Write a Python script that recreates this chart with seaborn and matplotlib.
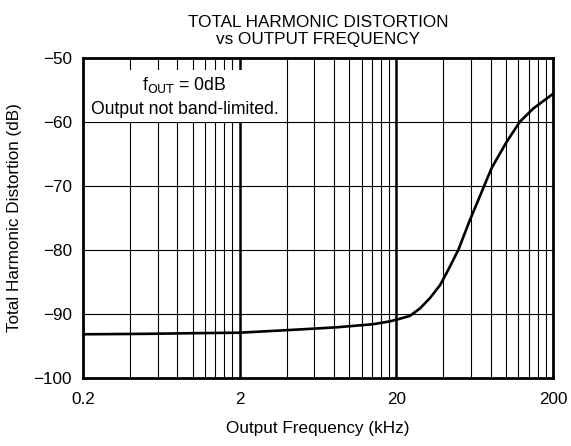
import numpy as np
import pandas as pd
import matplotlib
matplotlib.use("Agg")
import matplotlib.pyplot as plt
import seaborn as sns

# Data
freq_khz = [0.2, 0.5, 1.0, 2.0, 4.19, 8.32, 14.2, 18.2, 20.3, 24.4, 28.4, 32.8, 38.0, 42.9, 49.7, 59.0, 66.7, 81.1, 101.2, 123, 149.6, 200]
thd_db = [-93.17, -93.1, -93.0, -92.92, -92.5, -92.08, -91.6, -91.15, -90.85, -90.3, -89.1, -87.5, -85.5, -83.1, -80.0, -75.3, -72.2, -67.2, -63.1, -59.95, -57.9, -55.6]
x_ticks = [0.2, 2, 20, 200]
x_tick_labels = ["0.2", "2", "20", "200"]
y_ticks = [-100, -90, -80, -70, -60, -50]

sns.set_theme(style="white")
plt.rcParams['font.family'] = ['Liberation Sans', 'DejaVu Sans']
FS = 12.3

fig = plt.figure(figsize=(5.71, 4.46), dpi=100)
ax = fig.add_axes([83/571, 1 - 378/446, (553-83)/571, (378-58)/446])

# Grid: minor verticals at 0.2*k per decade, heavier lines at decades
for dec in [0.2, 2, 20]:
    for k in range(2, 10):
        ax.axvline(dec * k, color="black", lw=0.8, zorder=1)
for xv in [2, 20]:
    ax.axvline(xv, color="black", lw=1.8, zorder=1.5)
for yv in y_ticks[1:-1]:
    ax.axhline(yv, color="black", lw=0.8, zorder=1)

df = pd.DataFrame({"f": freq_khz, "thd": thd_db})
sns.lineplot(data=df, x="f", y="thd", ax=ax, color="black", lw=1.9, zorder=3,
             estimator=None, solid_joinstyle="round", solid_capstyle="round")

ax.set_xscale("log")
ax.set_xlim(0.2, 200)
ax.set_ylim(-100, -50)
ax.set_xticks(x_ticks)
ax.set_xticklabels(x_tick_labels)
ax.xaxis.set_minor_locator(matplotlib.ticker.NullLocator())
ax.set_yticks(y_ticks)
ax.tick_params(axis="both", length=0, labelsize=FS, colors="black")
ax.tick_params(axis="x", pad=10)
ax.tick_params(axis="y", pad=8)
for s in ax.spines.values():
    s.set_color("black")
    s.set_linewidth(2)

ax.set_xlabel("Output Frequency (kHz)", fontsize=FS, labelpad=10, color="black")
ax.set_ylabel("Total Harmonic Distortion (dB)", fontsize=FS, labelpad=8, color="black")
ax.set_title("TOTAL HARMONIC DISTORTION\nvs OUTPUT FREQUENCY", fontsize=FS, linespacing=1.15, pad=10, color="black")

ax.text(0.216, 0.88, "f$_{\\mathrm{OUT}}$ = 0dB\nOutput not band-limited.", transform=ax.transAxes,
        ha="center", va="center", fontsize=12.7, linespacing=1.4, zorder=4, color="black",
        bbox=dict(facecolor="white", edgecolor="none", pad=3))

fig.savefig("out.png", dpi=100)
